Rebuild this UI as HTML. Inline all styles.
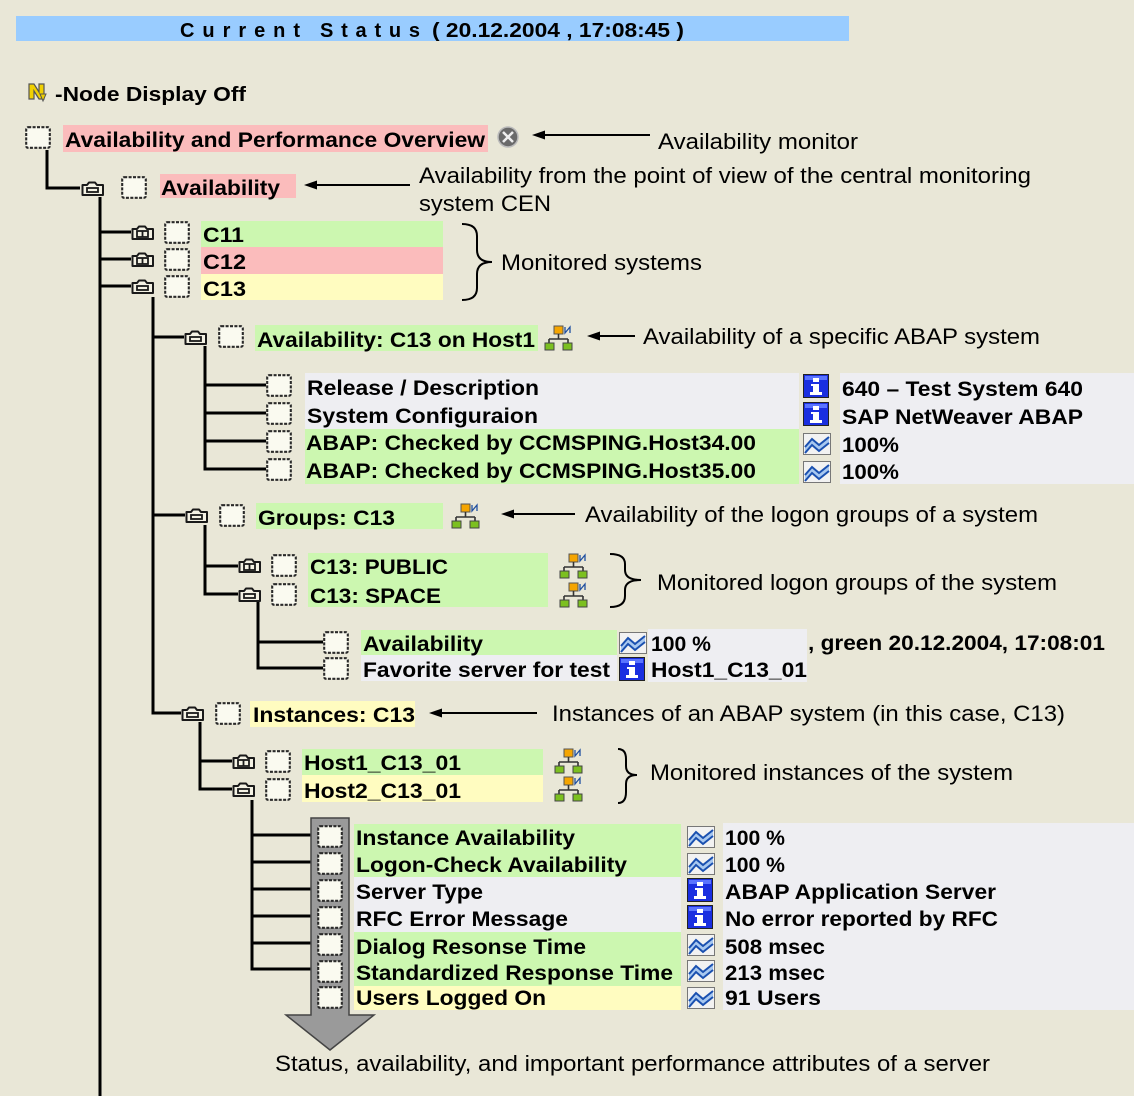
<!DOCTYPE html>
<html><head><meta charset="utf-8"><style>
html,body{margin:0;padding:0;background:#e9e7d7;}
svg{display:block;}
text{font-family:"Liberation Sans",Arial,sans-serif;fill:#000;}
.b{font-weight:700;font-size:21px;}
.n{font-weight:400;font-size:22px;}
</style></head><body>
<svg width="1134" height="1096" viewBox="0 0 1134 1096" xmlns="http://www.w3.org/2000/svg">
<defs>
 <g id="cb"><rect x="1.2" y="1.2" width="23.6" height="20.6" rx="2" fill="#fafaf0" stroke="#2a2a2a" stroke-width="2.1" stroke-dasharray="3 1.4"/></g>
 <g id="fm"><path d="M1.5 4 H6 L8 1.5 H14 L16 4 H22 V14 H1.5 Z" fill="#f4f2e4" stroke="#1a1a1a" stroke-width="2" stroke-linejoin="round"/><rect x="6" y="7" width="11" height="4" fill="none" stroke="#1a1a1a" stroke-width="1.8"/></g>
 <g id="fp"><path d="M1.5 4 H6 L8 1.5 H14 L16 4 H22 V14 H1.5 Z" fill="#f4f2e4" stroke="#1a1a1a" stroke-width="2" stroke-linejoin="round"/><rect x="6" y="6" width="11" height="6" fill="none" stroke="#1a1a1a" stroke-width="1.8"/><path d="M11.5 6 V12" stroke="#1a1a1a" stroke-width="1.8"/></g>
 <g id="net"><rect x="10" y="1" width="9" height="8" fill="#f5a500" stroke="#555" stroke-width="1"/><path d="M14.5 9 V14 M5 14 H24 M5 14 V18 M24 14 V18" stroke="#333" stroke-width="1.6" fill="none"/><rect x="1" y="18" width="9" height="7" fill="#7cc020" stroke="#444"/><rect x="19" y="18" width="9" height="7" fill="#7cc020" stroke="#444"/><path d="M21 2 V8 L26 2 V8" stroke="#2050a0" fill="none" stroke-width="1.3"/></g>
 <g id="info"><rect x="0.5" y="0.5" width="25" height="23" fill="#1a2fe0" stroke="#222"/><rect x="2" y="2" width="22" height="4" fill="#5a74ff"/><rect x="10" y="4" width="6" height="4" fill="#fff"/><rect x="8" y="10" width="8" height="2" fill="#fff"/><rect x="10" y="10" width="6" height="9" fill="#fff"/><rect x="7" y="18" width="12" height="3" fill="#fff"/></g>
 <g id="chart"><rect x="0.5" y="0.5" width="27" height="21" fill="#f2f2f2" stroke="#777"/><path d="M2 14 L9 6 L16 12 L26 4 L26 10 L16 18 L9 12 L2 20 Z" fill="#a8c8f0"/><polyline points="2,14 9,6 16,12 26,4" stroke="#1a50b0" stroke-width="2" fill="none"/><polyline points="2,20 9,12 16,18 26,10" stroke="#1a50b0" stroke-width="2" fill="none"/></g>
</defs>

<!-- header -->
<rect x="16" y="16" width="833" height="25" fill="#99ccff"/>
<text x="180" y="37" font-size="20" font-weight="700" textLength="120" lengthAdjust="spacing">Current</text>
<text x="320" y="37" font-size="20" font-weight="700" textLength="100" lengthAdjust="spacing">Status</text>
<text x="432" y="37" font-size="20" font-weight="700" textLength="252" lengthAdjust="spacingAndGlyphs">( 20.12.2004 , 17:08:45 )</text>

<!-- node display icon -->
<path d="M29 99 V84 H34 L39 92 V84 H44 V99 H39 L34 91 V99 Z" fill="#f0d000" stroke="#555" stroke-width="1.2"/>
<path d="M40 94 L46 94 L43 101 Z" fill="#f0d000" stroke="#555" stroke-width="1"/>
<text x="55" y="101" font-size="20" font-weight="700" textLength="191" lengthAdjust="spacingAndGlyphs">-Node Display Off</text>

<!-- backgrounds -->
<rect x="63" y="125" width="425" height="27" fill="#fbbcbc"/>
<rect x="160" y="174" width="136" height="24" fill="#fbbcbc"/>
<rect x="201" y="221" width="242" height="26" fill="#ccf7b0"/>
<rect x="201" y="247" width="242" height="27" fill="#fbbcbc"/>
<rect x="201" y="274" width="242" height="26" fill="#fffcc0"/>
<rect x="255" y="325" width="283" height="26" fill="#ccf7b0"/>
<rect x="305" y="373" width="494" height="56" fill="#eeeef2"/>
<rect x="305" y="429" width="494" height="55" fill="#ccf7b0"/>
<rect x="840" y="373" width="294" height="111" fill="#eeeef2"/>
<rect x="256" y="503" width="187" height="26" fill="#ccf7b0"/>
<rect x="308" y="553" width="240" height="54" fill="#ccf7b0"/>
<rect x="361" y="630" width="256" height="25" fill="#ccf7b0"/>
<rect x="361" y="655" width="256" height="26" fill="#eeeef2"/>
<rect x="648" y="629" width="159" height="53" fill="#eeeef2"/>
<rect x="250" y="701" width="165" height="26" fill="#fffcc0"/>
<rect x="302" y="749" width="241" height="26" fill="#ccf7b0"/>
<rect x="302" y="775" width="241" height="27" fill="#fffcc0"/>
<rect x="354" y="824" width="327" height="53" fill="#ccf7b0"/>
<rect x="354" y="877" width="327" height="55" fill="#eeeef2"/>
<rect x="354" y="932" width="327" height="54" fill="#ccf7b0"/>
<rect x="354" y="986" width="327" height="24" fill="#fffcc0"/>
<rect x="723" y="823" width="411" height="187" fill="#eeeef2"/>

<!-- tree lines -->
<g stroke="#000" stroke-width="3" fill="none">
 <path d="M47 150 V188 H80"/>
 <path d="M100 197 V1096"/>
 <path d="M100 232 H131 M100 259 H131 M100 286 H131"/>
 <path d="M153 297 V713 H181 M153 337 H184 M153 515 H185"/>
 <path d="M205 346 V469 H266 M205 385 H266 M205 413 H266 M205 441 H266"/>
 <path d="M205 525 V594 H238 M205 566 H238"/>
 <path d="M258 602 V668 H323 M258 642 H323"/>
 <path d="M200 722 V789 H232 M200 761 H232"/>
 <path d="M252 800 V969 H316 M252 835 H316 M252 862 H316 M252 889 H316 M252 916 H316 M252 943 H316"/>
</g>

<!-- gray arrow -->
<path d="M311 818 H349 V1015 H374 L330 1050 L286 1015 H311 Z" fill="#9a9a9a" stroke="#444" stroke-width="1.5"/>

<!-- checkboxes -->
<use href="#cb" x="25" y="126"/>
<use href="#cb" x="121" y="176"/>
<use href="#cb" x="164" y="221"/>
<use href="#cb" x="164" y="248"/>
<use href="#cb" x="164" y="275"/>
<use href="#cb" x="218" y="325"/>
<use href="#cb" x="266" y="374"/>
<use href="#cb" x="266" y="402"/>
<use href="#cb" x="266" y="430"/>
<use href="#cb" x="266" y="458"/>
<use href="#cb" x="219" y="504"/>
<use href="#cb" x="271" y="554"/>
<use href="#cb" x="271" y="583"/>
<use href="#cb" x="323" y="631"/>
<use href="#cb" x="323" y="657"/>
<use href="#cb" x="215" y="702"/>
<use href="#cb" x="265" y="750"/>
<use href="#cb" x="265" y="778"/>
<use href="#cb" x="317" y="825"/>
<use href="#cb" x="317" y="852"/>
<use href="#cb" x="317" y="879"/>
<use href="#cb" x="317" y="906"/>
<use href="#cb" x="317" y="933"/>
<use href="#cb" x="317" y="960"/>
<use href="#cb" x="317" y="986"/>

<!-- folder icons -->
<use href="#fm" x="81" y="181"/>
<use href="#fp" x="131" y="225"/>
<use href="#fp" x="131" y="252"/>
<use href="#fm" x="131" y="279"/>
<use href="#fm" x="184" y="330"/>
<use href="#fm" x="185" y="508"/>
<use href="#fp" x="238" y="558"/>
<use href="#fm" x="238" y="587"/>
<use href="#fm" x="181" y="706"/>
<use href="#fp" x="232" y="754"/>
<use href="#fm" x="232" y="782"/>

<!-- network icons -->
<use href="#net" x="544" y="325"/>
<use href="#net" x="451" y="503"/>
<use href="#net" x="559" y="553"/>
<use href="#net" x="559" y="582"/>
<use href="#net" x="554" y="748"/>
<use href="#net" x="554" y="776"/>

<!-- info / chart icons -->
<use href="#info" x="803" y="374"/>
<use href="#info" x="803" y="402"/>
<use href="#chart" x="803" y="433"/>
<use href="#chart" x="803" y="461"/>
<use href="#chart" x="619" y="632"/>
<use href="#info" x="619" y="657"/>
<use href="#chart" x="687" y="826"/>
<use href="#chart" x="687" y="853"/>
<use href="#info" x="687" y="878"/>
<use href="#info" x="687" y="905"/>
<use href="#chart" x="687" y="934"/>
<use href="#chart" x="687" y="960"/>
<use href="#chart" x="687" y="987"/>

<!-- circle icon -->
<circle cx="508" cy="137" r="10" fill="#6a6a6a" stroke="#bbb" stroke-width="1.5"/>
<path d="M503 132 L513 142 M513 132 L503 142" stroke="#eee" stroke-width="2.5"/>

<!-- annotation arrows -->
<g stroke="#000" stroke-width="2">
 <path d="M543 135 H650"/><path d="M315 185 H410"/><path d="M598 336 H635"/><path d="M512 514 H575"/><path d="M440 713 H537"/>
</g>
<g fill="#000">
 <path d="M532 135 L545 130.5 L545 139.5 Z"/>
 <path d="M304 185 L317 180.5 L317 189.5 Z"/>
 <path d="M587 336 L600 331.5 L600 340.5 Z"/>
 <path d="M501 514 L514 509.5 L514 518.5 Z"/>
 <path d="M429 713 L442 708.5 L442 717.5 Z"/>
</g>

<!-- braces -->
<g stroke="#000" stroke-width="2" fill="none">
 <path d="M462 224 Q477 224 477 236 V250 Q477 262 492 262 Q477 262 477 274 V288 Q477 300 462 300"/>
 <path d="M610 554 Q625 554 625 564 V570 Q625 580 641 580 Q625 580 625 590 V596 Q625 607 610 607"/>
 <path d="M618 749 Q626 749 626 759 V766 Q626 775 637 775 Q626 775 626 784 V792 Q626 803 618 803"/>
</g>

<!-- labels -->
<text class="b" x="65" y="147" textLength="420" lengthAdjust="spacingAndGlyphs">Availability and Performance Overview</text>
<text class="n" x="658" y="149" textLength="200" lengthAdjust="spacingAndGlyphs">Availability monitor</text>
<text class="b" x="161" y="195" textLength="119" lengthAdjust="spacingAndGlyphs">Availability</text>
<text class="n" x="419" y="183" textLength="612" lengthAdjust="spacingAndGlyphs">Availability from the point of view of the central monitoring</text>
<text class="n" x="419" y="211" textLength="132" lengthAdjust="spacingAndGlyphs">system CEN</text>
<text class="b" x="203" y="242" textLength="41" lengthAdjust="spacingAndGlyphs">C11</text>
<text class="b" x="203" y="269" textLength="43" lengthAdjust="spacingAndGlyphs">C12</text>
<text class="b" x="203" y="296" textLength="43" lengthAdjust="spacingAndGlyphs">C13</text>
<text class="n" x="501" y="270" textLength="201" lengthAdjust="spacingAndGlyphs">Monitored systems</text>
<text class="b" x="257" y="347" textLength="278" lengthAdjust="spacingAndGlyphs">Availability: C13 on Host1</text>
<text class="n" x="643" y="344" textLength="397" lengthAdjust="spacingAndGlyphs">Availability of a specific ABAP system</text>
<text class="b" x="307" y="395" textLength="232" lengthAdjust="spacingAndGlyphs">Release / Description</text>
<text class="b" x="307" y="423" textLength="231" lengthAdjust="spacingAndGlyphs">System Configuraion</text>
<text class="b" x="306" y="450" textLength="450" lengthAdjust="spacingAndGlyphs">ABAP: Checked by CCMSPING.Host34.00</text>
<text class="b" x="306" y="478" textLength="450" lengthAdjust="spacingAndGlyphs">ABAP: Checked by CCMSPING.Host35.00</text>
<text class="b" x="842" y="396" textLength="241" lengthAdjust="spacingAndGlyphs">640 – Test System 640</text>
<text class="b" x="842" y="424" textLength="241" lengthAdjust="spacingAndGlyphs">SAP NetWeaver ABAP</text>
<text class="b" x="842" y="452" textLength="57" lengthAdjust="spacingAndGlyphs">100%</text>
<text class="b" x="842" y="479" textLength="57" lengthAdjust="spacingAndGlyphs">100%</text>
<text class="b" x="258" y="525" textLength="137" lengthAdjust="spacingAndGlyphs">Groups: C13</text>
<text class="n" x="585" y="522" textLength="453" lengthAdjust="spacingAndGlyphs">Availability of the logon groups of a system</text>
<text class="b" x="310" y="574" textLength="138" lengthAdjust="spacingAndGlyphs">C13: PUBLIC</text>
<text class="b" x="310" y="603" textLength="131" lengthAdjust="spacingAndGlyphs">C13: SPACE</text>
<text class="n" x="657" y="590" textLength="400" lengthAdjust="spacingAndGlyphs">Monitored logon groups of the system</text>
<text class="b" x="363" y="651" textLength="120" lengthAdjust="spacingAndGlyphs">Availability</text>
<text class="b" x="363" y="677" textLength="247" lengthAdjust="spacingAndGlyphs">Favorite server for test</text>
<text class="b" x="651" y="651" textLength="60" lengthAdjust="spacingAndGlyphs">100 %</text>
<text class="b" x="651" y="677" textLength="156" lengthAdjust="spacingAndGlyphs">Host1_C13_01</text>
<text class="b" x="808" y="650" textLength="297" lengthAdjust="spacingAndGlyphs">, green 20.12.2004, 17:08:01</text>
<text class="b" x="253" y="722" textLength="162" lengthAdjust="spacingAndGlyphs">Instances: C13</text>
<text class="n" x="552" y="721" textLength="513" lengthAdjust="spacingAndGlyphs">Instances of an ABAP system (in this case, C13)</text>
<text class="b" x="304" y="770" textLength="157" lengthAdjust="spacingAndGlyphs">Host1_C13_01</text>
<text class="b" x="304" y="798" textLength="157" lengthAdjust="spacingAndGlyphs">Host2_C13_01</text>
<text class="n" x="650" y="780" textLength="363" lengthAdjust="spacingAndGlyphs">Monitored instances of the system</text>
<text class="b" x="356" y="845" textLength="219" lengthAdjust="spacingAndGlyphs">Instance Availability</text>
<text class="b" x="356" y="872" textLength="271" lengthAdjust="spacingAndGlyphs">Logon-Check Availability</text>
<text class="b" x="356" y="899" textLength="127" lengthAdjust="spacingAndGlyphs">Server Type</text>
<text class="b" x="356" y="926" textLength="212" lengthAdjust="spacingAndGlyphs">RFC Error Message</text>
<text class="b" x="356" y="954" textLength="230" lengthAdjust="spacingAndGlyphs">Dialog Resonse Time</text>
<text class="b" x="356" y="980" textLength="317" lengthAdjust="spacingAndGlyphs">Standardized Response Time</text>
<text class="b" x="356" y="1005" textLength="190" lengthAdjust="spacingAndGlyphs">Users Logged On</text>
<text class="b" x="725" y="845" textLength="60" lengthAdjust="spacingAndGlyphs">100 %</text>
<text class="b" x="725" y="872" textLength="60" lengthAdjust="spacingAndGlyphs">100 %</text>
<text class="b" x="725" y="899" textLength="271" lengthAdjust="spacingAndGlyphs">ABAP Application Server</text>
<text class="b" x="725" y="926" textLength="273" lengthAdjust="spacingAndGlyphs">No error reported by RFC</text>
<text class="b" x="725" y="954" textLength="100" lengthAdjust="spacingAndGlyphs">508 msec</text>
<text class="b" x="725" y="980" textLength="100" lengthAdjust="spacingAndGlyphs">213 msec</text>
<text class="b" x="725" y="1005" textLength="96" lengthAdjust="spacingAndGlyphs">91 Users</text>
<text class="n" x="275" y="1071" textLength="715" lengthAdjust="spacingAndGlyphs">Status, availability, and important performance attributes of a server</text>
</svg>
</body></html>
